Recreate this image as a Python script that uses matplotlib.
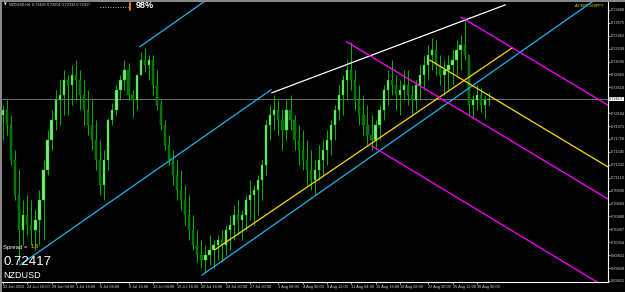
import numpy as np
import matplotlib
matplotlib.use("Agg")
import matplotlib.pyplot as plt
from matplotlib.lines import Line2D

plt.rcParams['font.family'] = ['Liberation Sans', 'DejaVu Sans']

symbol = "NZDUSD"
last_price = 0.72417
spread = "1.8"
first_open = 0.7215

# H4 candles (one entry per drawn bar)
highs = [0.7232, 0.7240, 0.7215, 0.7158, 0.7125, 0.7075, 0.7083, 0.7075, 0.7059, 0.7092,
         0.7141, 0.7191, 0.7224, 0.7257, 0.7273, 0.7290, 0.7281, 0.7298, 0.7306, 0.7290,
         0.7273, 0.7257, 0.7240, 0.7207, 0.7174, 0.7158, 0.7210, 0.7235, 0.7265, 0.7281,
         0.7306, 0.7301, 0.7257, 0.7273, 0.7319, 0.7326, 0.7314, 0.7314, 0.7290, 0.7240,
         0.7207, 0.7182, 0.7158, 0.7141, 0.7125, 0.7100, 0.7083, 0.7050, 0.7026, 0.7009,
         0.7001, 0.7017, 0.7009, 0.7017, 0.7026, 0.7034, 0.7050, 0.7067, 0.7075, 0.7059,
         0.7083, 0.7108, 0.7100, 0.7116, 0.7141, 0.7207, 0.7232, 0.7248, 0.7240, 0.7224,
         0.7240, 0.7248, 0.7215, 0.7199, 0.7191, 0.7174, 0.7158, 0.7141, 0.7166, 0.7174,
         0.7191, 0.7207, 0.7232, 0.7265, 0.7281, 0.7306, 0.7336, 0.7290, 0.7265, 0.7248,
         0.7232, 0.7215, 0.7207, 0.7232, 0.7265, 0.7290, 0.7306, 0.7281, 0.7273, 0.7290,
         0.7290, 0.7265, 0.7273, 0.7298, 0.7314, 0.7331, 0.7342, 0.7339, 0.7314, 0.7306,
         0.7314, 0.7323, 0.7339, 0.7347, 0.7377, 0.7314, 0.7248, 0.7265, 0.7260, 0.7248,
         0.7253]
lows = [0.7174, 0.7182, 0.7133, 0.7075, 0.6973, 0.7001, 0.7017, 0.7001, 0.6993, 0.7001,
        0.7009, 0.7116, 0.7158, 0.7191, 0.7199, 0.7215, 0.7215, 0.7232, 0.7240, 0.7224,
        0.7199, 0.7182, 0.7158, 0.7125, 0.7083, 0.7075, 0.7125, 0.7199, 0.7215, 0.7240,
        0.7257, 0.7240, 0.7212, 0.7224, 0.7281, 0.7286, 0.7273, 0.7248, 0.7224, 0.7191,
        0.7158, 0.7133, 0.7100, 0.7075, 0.7059, 0.7034, 0.7009, 0.6993, 0.6973, 0.6963,
        0.6956, 0.6968, 0.6963, 0.6976, 0.6973, 0.6984, 0.6993, 0.7009, 0.7017, 0.7009,
        0.7026, 0.7042, 0.7034, 0.7050, 0.7075, 0.7116, 0.7174, 0.7191, 0.7182, 0.7158,
        0.7174, 0.7191, 0.7158, 0.7133, 0.7125, 0.7100, 0.7092, 0.7083, 0.7108, 0.7116,
        0.7133, 0.7149, 0.7174, 0.7207, 0.7215, 0.7240, 0.7257, 0.7224, 0.7199, 0.7182,
        0.7166, 0.7158, 0.7158, 0.7174, 0.7207, 0.7232, 0.7248, 0.7224, 0.7215, 0.7240,
        0.7232, 0.7215, 0.7224, 0.7240, 0.7257, 0.7273, 0.7290, 0.7281, 0.7265, 0.7248,
        0.7257, 0.7265, 0.7281, 0.7290, 0.7306, 0.7215, 0.7210, 0.7224, 0.7220, 0.7210,
        0.7232]
closes = [0.7224, 0.7199, 0.7141, 0.7083, 0.7026, 0.7050, 0.7034, 0.7026, 0.7042, 0.7075,
          0.7125, 0.7174, 0.7207, 0.7240, 0.7248, 0.7273, 0.7265, 0.7281, 0.7273, 0.7248,
          0.7224, 0.7199, 0.7174, 0.7141, 0.7100, 0.7141, 0.7207, 0.7224, 0.7257, 0.7273,
          0.7290, 0.7248, 0.7240, 0.7281, 0.7306, 0.7298, 0.7306, 0.7265, 0.7232, 0.7199,
          0.7166, 0.7141, 0.7116, 0.7092, 0.7075, 0.7050, 0.7026, 0.7001, 0.6984, 0.6976,
          0.6984, 0.6993, 0.7001, 0.7009, 0.7001, 0.7026, 0.7034, 0.7050, 0.7042, 0.7050,
          0.7075, 0.7083, 0.7092, 0.7108, 0.7133, 0.7199, 0.7215, 0.7224, 0.7207, 0.7191,
          0.7224, 0.7207, 0.7174, 0.7158, 0.7141, 0.7125, 0.7108, 0.7125, 0.7141, 0.7158,
          0.7174, 0.7199, 0.7224, 0.7248, 0.7273, 0.7290, 0.7273, 0.7240, 0.7215, 0.7199,
          0.7182, 0.7174, 0.7199, 0.7224, 0.7257, 0.7273, 0.7265, 0.7248, 0.7257, 0.7265,
          0.7248, 0.7240, 0.7265, 0.7281, 0.7298, 0.7314, 0.7323, 0.7298, 0.7281, 0.7290,
          0.7298, 0.7306, 0.7323, 0.7331, 0.7314, 0.7232, 0.7240, 0.7248, 0.7232, 0.7240,
          0.72417]

x_tick_bars = [0, 6, 12, 18, 24, 31, 37, 43, 49, 55, 61, 68, 74, 80, 86, 92, 98, 105, 111, 117]
x_tick_labels = ["22 Jun 2016", "24 Jun 16:00", "29 Jun 04:00", "1 Jul 16:00", "6 Jul 04:00",
                 "8 Jul 16:00", "13 Jul 04:00", "15 Jul 16:00", "20 Jul 16:00", "22 Jul 20:00",
                 "27 Jul 20:00", "1 Aug 08:00", "4 Aug 00:00", "8 Aug 12:00", "11 Aug 04:00",
                 "15 Aug 16:00", "18 Aug 08:00", "22 Aug 20:00", "25 Aug 12:00", "30 Aug 00:00"]
y_ticks = [0.69415, 0.69628, 0.69841, 0.70054, 0.70267, 0.70480, 0.70693, 0.70906, 0.71119,
           0.71332, 0.71545, 0.71758, 0.71971, 0.72184, 0.72610, 0.72823, 0.73036, 0.73249,
           0.73462, 0.73675, 0.73888]

# trend lines as (bar0, price0, bar1, price1)
cyan_lines = [(33.8, 0.7328, 56.0, 0.7432),
              (4.2, 0.6968, 66.2, 0.7257),
              (49.1, 0.6951, 152.3, 0.7434)]
yellow_lines = [(52.3, 0.6993, 125.7, 0.7326),
                (105.4, 0.7306, 152.3, 0.7118)]
white_lines = [(66.4, 0.7252, 124.0, 0.7397)]
magenta_lines = [(113.1, 0.7377, 152.3, 0.7220),
                 (84.9, 0.7336, 152.3, 0.7065),
                 (91.1, 0.7164, 152.3, 0.6917)]

opens = [first_open] + closes[:-1]
bars = np.arange(len(closes))
o = np.array(opens)
c = np.array(closes)
up = c >= o

fig = plt.figure(figsize=(6.25, 2.92), dpi=100, facecolor="black")
ax = fig.add_axes([2 / 625, 10 / 292, 606 / 625, 280 / 292])
ax.set_facecolor("black")

# candles
ax.vlines(bars, lows, highs, color="#00b400", lw=0.7, zorder=3)
body_lo = np.minimum(o, c)
body_h = np.maximum(np.abs(c - o), 0.00004)
ax.bar(bars[up], body_h[up], bottom=body_lo[up], width=0.55, color="#7ee87e",
       edgecolor="#00d000", lw=0.3, zorder=4)
ax.bar(bars[~up], body_h[~up], bottom=body_lo[~up], width=0.55, color="#006e00",
       edgecolor="#00a000", lw=0.3, zorder=4)

ax.axhline(last_price, color="#707070", lw=0.7, zorder=2)

for lines, col in [(cyan_lines, "#1cb4f0"), (yellow_lines, "#ffd800"),
                   (white_lines, "white"), (magenta_lines, "#ff00ff")]:
    for b0, p0, b1, p1 in lines:
        ax.plot([b0, b1], [p0, p1], color=col, lw=0.9, zorder=5)

ax.set_xlim(-0.25, 149.4)
ax.set_ylim(0.69398, 0.74018)

ax.yaxis.tick_right()
ax.set_yticks(y_ticks)
ax.set_yticklabels([f"{v:.5f}" for v in y_ticks])
ax.set_xticks(x_tick_bars)
ax.set_xticklabels(x_tick_labels, ha="left")
ax.tick_params(axis="both", colors="white", labelcolor="#d8d8d8", labelsize=2.8,
               length=1.5, width=0.5, pad=0.5)
for side in ["top", "left"]:
    ax.spines[side].set_visible(False)
for side in ["right", "bottom"]:
    ax.spines[side].set_color("white")
    ax.spines[side].set_linewidth(0.8)

ax.text(1.002, last_price, f"{last_price:.5f}", transform=ax.get_yaxis_transform(),
        fontsize=2.8, color="black", va="center", ha="left",
        bbox=dict(boxstyle="square,pad=0.12", fc="white", ec="none"), zorder=10)

# overlay labels
ax.text(1 / 606, 0.125, "Spread = ", transform=ax.transAxes, fontsize=4.3, color="white",
        va="center", zorder=10)
ax.text(29 / 606, 0.125, spread, transform=ax.transAxes, fontsize=4.3, color="#ffc000",
        va="center", zorder=10)
ax.text(1 / 606, 0.07, f"{last_price:.5f}", transform=ax.transAxes, fontsize=9.5,
        color="white", va="center", zorder=10)
ax.text(1 / 606, 0.022, symbol, transform=ax.transAxes, fontsize=6.5, color="white",
        va="center", zorder=10)

fig.text(4 / 625, 1 - 5 / 292, "\u25bc", fontsize=2.6, color="white", va="center",
         family="DejaVu Sans")
fig.text(9 / 625, 1 - 5 / 292, "NZDUSD,H4  0.72403 0.72501 0.72332 0.72417",
         fontsize=2.7, color="#e0e0e0", va="center")
fig.add_artist(Line2D([100 / 625, 128 / 625], [1 - 7 / 292] * 2, transform=fig.transFigure,
                      color="white", lw=0.6, ls=(0, (1, 2))))
fig.add_artist(Line2D([130 / 625, 130 / 625], [1 - 3 / 292, 1 - 10 / 292],
                      transform=fig.transFigure, color="#ff9020", lw=1.2))
fig.text(136 / 625, 1 - 6 / 292, "98%", fontsize=6.5, color="white", fontweight="bold",
         va="center")
fig.text(604 / 625, 1 - 6 / 292, "A-CEPT-SHIPPY", fontsize=2.8, color="#e0e000",
         va="center", ha="right")

# window frame (left and top edges)
fig.add_artist(Line2D([0.5 / 625, 0.5 / 625], [0, 1], transform=fig.transFigure,
                      color="#8c8c8c", lw=1.4))
fig.add_artist(Line2D([0, 1], [1 - 0.5 / 292, 1 - 0.5 / 292], transform=fig.transFigure,
                      color="#8c8c8c", lw=1.4))

fig.savefig("out.png", dpi=100, facecolor="black")
